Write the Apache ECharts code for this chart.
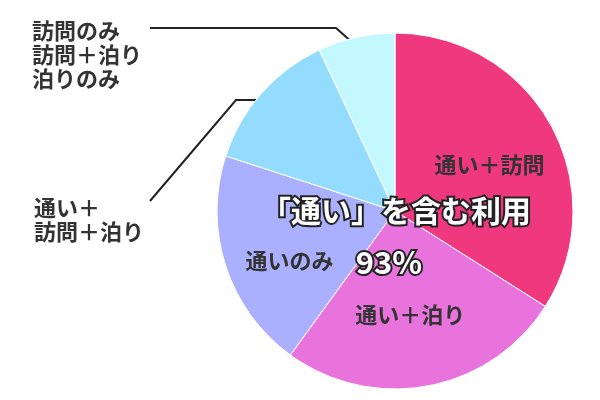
<!DOCTYPE html>
<html>
<head>
<meta charset="utf-8">
<script src="https://cdn.jsdelivr.net/npm/echarts@6/dist/echarts.min.js"></script>
<style>
  html, body { margin: 0; padding: 0; background: #fff; }
  #main { width: 600px; height: 400px; }
</style>
</head>
<body>
<div id="main"></div>
<script>
// 利用形態の割合（%）
var categories = ['通い＋訪問', '通い＋泊り', '通いのみ', '通い＋\n訪問＋泊り', '訪問のみ\n訪問＋泊り\n泊りのみ'];
var values = [34, 26, 20, 13, 7];
var colors = ['#f0387f', '#e873dc', '#aab0fe', '#94dcfd', '#c3f8ff'];
var centerTitle = '「通い」を含む利用';
var centerValue = '93%';

var FONT = '"Noto Sans CJK JP", "Noto Sans", sans-serif';

var chart = echarts.init(document.getElementById('main'));

// 内側ラベルの微調整と外側ラベルの引き出し線
function layoutLabel(params) {
    var i = params.dataIndex;
    if (i === 0) return { dx: 14, dy: -2 };
    if (i === 1) return { dx: -2, dy: 13 };
    if (i === 2) return { dx: -18, dy: 21 };
    if (i === 3) {
        return {
            x: 34, y: 220, align: 'left', verticalAlign: 'middle',
            labelLinePoints: [[288, 100], [236, 100], [150, 201]]
        };
    }
    return {
        x: 32, y: 55, align: 'left', verticalAlign: 'middle',
        labelLinePoints: [[363, 52], [336, 28], [150, 28]]
    };
}

var option = {
    animation: false,
    graphic: [
        {
            type: 'text',
            x: 396, y: 211,
            style: {
                text: centerTitle,
                align: 'center',
                verticalAlign: 'middle',
                font: 'bold 30px ' + FONT,
                fill: '#fff',
                stroke: '#222',
                lineWidth: 4
            },
            z: 100
        },
        {
            type: 'text',
            x: 389, y: 262,
            style: {
                text: centerValue,
                align: 'center',
                verticalAlign: 'middle',
                font: 'bold 31px ' + FONT,
                fill: '#fff',
                stroke: '#222',
                lineWidth: 4
            },
            z: 100
        }
    ],
    series: [{
        type: 'pie',
        center: [395, 211],
        radius: 178,
        startAngle: 90,
        clockwise: true,
        avoidLabelOverlap: false,
        itemStyle: {
            borderColor: '#fff',
            borderWidth: 1
        },
        label: {
            color: '#333',
            fontSize: 22,
            fontWeight: 'bold',
            fontFamily: FONT,
            lineHeight: 24
        },
        labelLine: {
            lineStyle: { color: '#222', width: 2 }
        },
        labelLayout: layoutLabel,
        data: categories.map(function (name, i) {
            var inside = i < 3;
            return {
                name: name,
                value: values[i],
                itemStyle: { color: colors[i] },
                label: {
                    position: inside ? 'inside' : 'outside',
                    formatter: '{b}'
                },
                labelLine: { show: !inside }
            };
        })
    }]
};

chart.setOption(option);
</script>
</body>
</html>
